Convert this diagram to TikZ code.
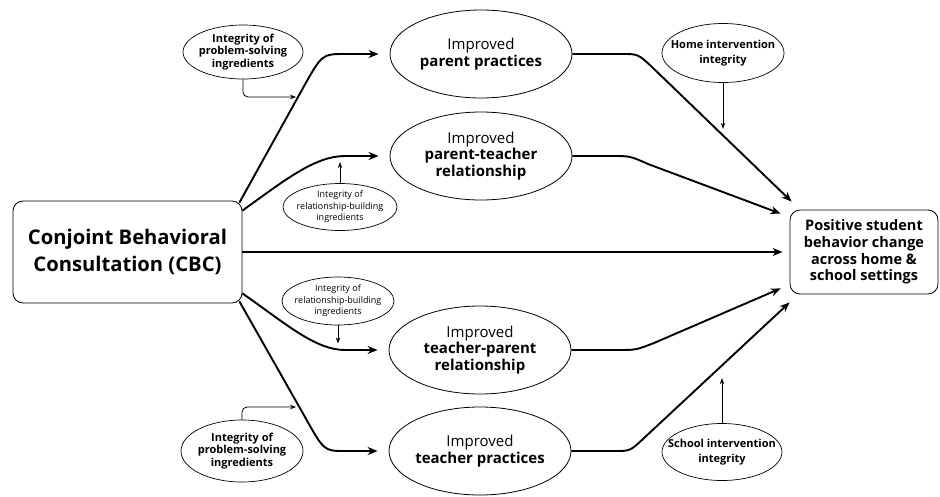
\documentclass[tikz,border=0pt]{standalone}
\usepackage{fontspec}
\setmainfont{Open Sans}
\usetikzlibrary{shapes.geometric,arrows.meta,calc}
\begin{document}
\begin{tikzpicture}[x=1pt,y=-1pt,
  box/.style={draw, rounded corners=10pt, line width=0.8pt, align=center, inner sep=0pt},
  bigell/.style={ellipse, draw, line width=0.8pt, minimum width=182pt, minimum height=88pt,
    inner xsep=-15pt, inner ysep=-5pt, align=center, font=\fontsize{15}{16.5}\selectfont},
  smallell/.style={ellipse, draw, line width=0.7pt, inner xsep=-15pt, inner ysep=-5pt, align=center},
  psfont/.style={font=\bfseries\fontsize{11}{12.5}\selectfont},
  rbfont/.style={font=\fontsize{9}{11.5}\selectfont},
  intfont/.style={font=\bfseries\fontsize{11}{14.5}\selectfont},
  mainarrow/.style={line width=1.9pt, -{Stealth[length=10pt,width=8pt]}},
  thinarrow/.style={line width=0.8pt, -{Stealth[length=6pt,width=4.5pt]}}]
\path[use as bounding box, fill=white] (0,0) rectangle (940,496);

% main boxes
\node[box, minimum width=229pt, minimum height=102pt, font=\bfseries\fontsize{20.2}{27}\selectfont]
  (cbc) at (127.5,252) {Conjoint Behavioral\\Consultation (CBC)};
\node[box, minimum width=148pt, minimum height=84pt, font=\bfseries\fontsize{14.5}{16.7}\selectfont]
  (out) at (864,252) {Positive student\\behavior change\\across home \&\\school settings};

% big ellipses
\node[bigell] (pp) at (481,54) {Improved\\\textbf{parent practices}};
\node[bigell] (pt) at (481,156) {Improved\\\textbf{parent-teacher}\\\textbf{relationship}};
\node[bigell] (tp) at (480,350) {Improved\\\textbf{teacher-parent}\\\textbf{relationship}};
\node[bigell] (tpr) at (480,451) {Improved\\\textbf{teacher practices}};

% small ellipses
\node[smallell, psfont, minimum width=120pt, minimum height=54pt] (ps1) at (243,52) {Integrity of\\problem-solving\\ingredients};
\node[smallell, rbfont, minimum width=114pt, minimum height=47pt] (rb1) at (340,207) {Integrity of\\relationship-building\\ingredients};
\node[smallell, rbfont, minimum width=112pt, minimum height=48pt] (rb2) at (338,301) {Integrity of\\relationship-building\\ingredients};
\node[smallell, psfont, minimum width=122pt, minimum height=62pt] (ps2) at (242,451) {Integrity of\\problem-solving\\ingredients};
\node[smallell, intfont, minimum width=122pt, minimum height=59pt] (home) at (723,53) {Home intervention\\integrity};
\node[smallell, intfont, minimum width=120pt, minimum height=57pt] (school) at (722,452) {School intervention\\integrity};

% free ends of moderator arrows
\coordinate (ps1t) at (296,97);
\coordinate (ps2t) at (296,407);

% moderator connectors
\draw[thinarrow, rounded corners=5pt] (ps1.south) |- (ps1t);
\draw[thinarrow, rounded corners=5pt] (ps2.north) |- (ps2t);
\draw[thinarrow] (rb1.north) -- ++(0,-21);
\draw[thinarrow] (rb2.south) -- ++(0,18);
\draw[thinarrow] (home.south) -- ++(0,46);
\draw[thinarrow] (school.north) -- ++(0,-45);

% CBC to mediators
\draw[mainarrow] ([xshift=-3pt,yshift=-2pt]cbc.north east) -- (303,88) .. controls (322,54) .. (345,54) -- ([xshift=-11pt]pp.west);
\draw[mainarrow] ([yshift=-10pt]cbc.north east) .. controls (285,180) and (315,156) .. (345,156) -- ([xshift=-11pt]pt.west);
\draw[mainarrow] ([yshift=10pt]cbc.south east) .. controls (285,323) and (315,350) .. (345,350) -- ([xshift=-11pt]tp.west);
\draw[mainarrow] ([xshift=-3pt,yshift=2pt]cbc.south east) -- (305,417) .. controls (324,451) .. (345,451) -- ([xshift=-11pt]tpr.west);
\draw[mainarrow] (cbc.east) -- ([xshift=-7pt]out.west);

% mediators to outcome
\draw[mainarrow] (pp.east) -- (622,54) .. controls (638,54) .. (652,67) -- ([xshift=2pt,yshift=8pt]out.north west);
\draw[mainarrow] (pt.east) -- (612,156) .. controls (630,156) .. (648,164) -- ([xshift=-9pt,yshift=-4pt]out.north west);
\draw[mainarrow] (tp.east) -- (618,350) .. controls (636,350) .. (654,343) -- ([xshift=-9pt,yshift=6pt]out.south west);
\draw[mainarrow] (tpr.east) -- (615,451) .. controls (630,451) .. (643,439) -- ([yshift=-8pt]out.south west);
\end{tikzpicture}
\end{document}
